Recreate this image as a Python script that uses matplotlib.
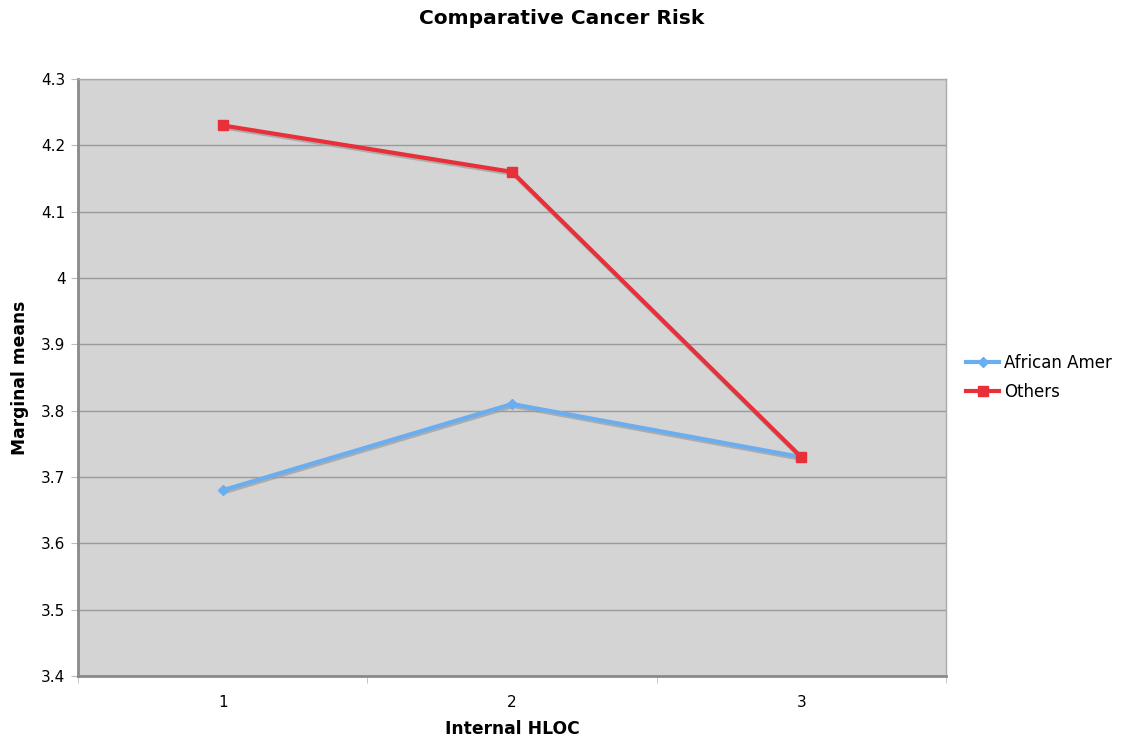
import matplotlib
matplotlib.use("Agg")
import matplotlib.pyplot as plt
import matplotlib.transforms as mtransforms

categories = ["1", "2", "3"]
african_amer = [3.68, 3.81, 3.73]
others = [4.23, 4.16, 3.73]
y_ticks = [3.4, 3.5, 3.6, 3.7, 3.8, 3.9, 4.0, 4.1, 4.2, 4.3]
y_labels = ["3.4", "3.5", "3.6", "3.7", "3.8", "3.9", "4", "4.1", "4.2", "4.3"]

fig = plt.figure(figsize=(11.24, 7.4), dpi=100)
ax = fig.add_axes([78/1124, 64/740, (946-78)/1124, (676-79)/740])
ax.set_facecolor("#d4d4d4")

x = list(range(len(categories)))
shadow_tr = mtransforms.offset_copy(ax.transData, fig=fig, x=1, y=-2, units="dots")
for series in (african_amer, others):
    ax.plot(x, series, color="#9c9c9c", lw=3, alpha=0.7, transform=shadow_tr, zorder=2)

ax.plot(x, african_amer, color="#6aaef0", lw=3, marker="D", ms=5,
        label="African Amer", zorder=3)
ax.plot(x, others, color="#e8303a", lw=3, marker="s", ms=7,
        label="Others", zorder=4)

ax.set_xlim(-0.5, len(categories) - 0.5)
ax.set_ylim(3.4, 4.3)
ax.set_yticks(y_ticks)
ax.set_yticklabels(y_labels, fontsize=11)
ax.set_xticks(x)
ax.set_xticklabels(categories, fontsize=11)
ax.tick_params(axis="x", length=0, pad=14)
ax.set_xticks([i - 0.5 for i in range(len(categories) + 1)], minor=True)
ax.tick_params(axis="x", which="minor", length=5, color="#bbbbbb")
ax.tick_params(axis="y", length=5, color="#bbbbbb", pad=4)
ax.yaxis.grid(True, color="#9a9a9a", lw=1)
ax.set_axisbelow(True)

for s in ["top", "right"]:
    ax.spines[s].set_color("#aaaaaa")
    ax.spines[s].set_linewidth(1)
ax.spines["left"].set_color("#8a8a8a")
ax.spines["left"].set_linewidth(2)
ax.spines["bottom"].set_color("#8a8a8a")
ax.spines["bottom"].set_linewidth(2)

ax.set_xlabel("Internal HLOC", fontsize=12.3, fontweight="bold", labelpad=7)
ax.set_ylabel("Marginal means", fontsize=12.3, fontweight="bold", labelpad=9)
fig.text(0.5, 1 - 18/740, "Comparative Cancer Risk", ha="center", va="center",
         fontsize=14.5, fontweight="bold")

ax.legend(loc="center left", bbox_to_anchor=(1.0, 0.5), frameon=False,
          fontsize=12, handlelength=2.0, handletextpad=0.3, borderaxespad=0.8,
          labelspacing=0.65)

fig.savefig("out.png", dpi=100)
